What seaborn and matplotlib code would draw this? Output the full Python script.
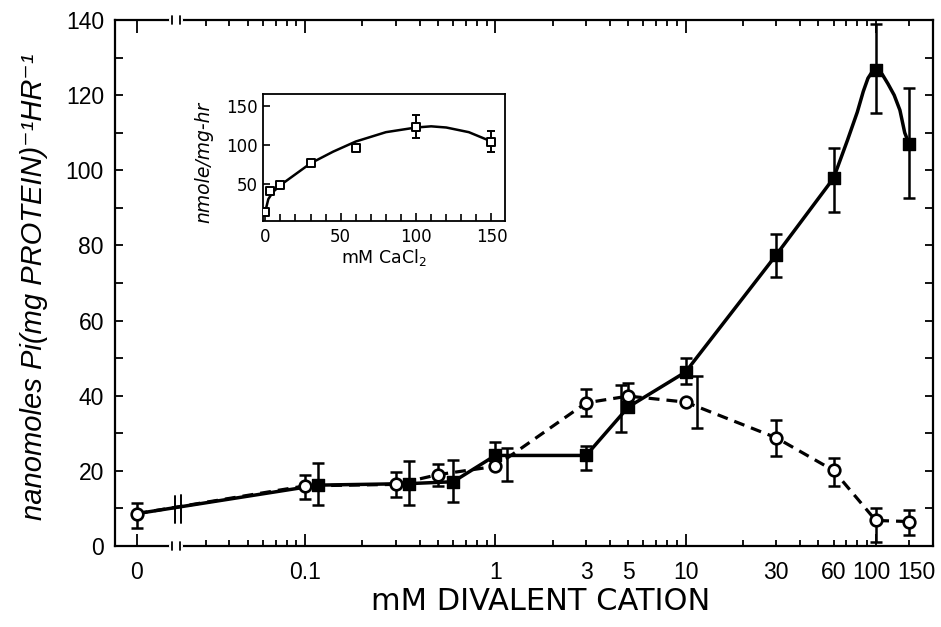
import matplotlib
matplotlib.use("Agg")
import matplotlib.pyplot as plt
import matplotlib.transforms as mtransforms
import numpy as np
import seaborn as sns

# ---- main panel data ----
ZERO_POS = 0.013          # where "0" sits on the broken log axis

open_x = [ZERO_POS, 0.1, 0.3, 0.5, 1, 3, 5, 10, 30, 60, 100, 150]
open_y = [8.6, 16.0, 16.4, 19.0, 21.2, 38.1, 39.9, 38.3, 28.8, 20.1, 6.8, 6.5]
open_err_x = [ZERO_POS, 0.1, 0.3, 0.5, 1.15, 3, 5, 11.5, 30, 60, 100, 150]
open_err_lo = [4.8, 12.5, 13.1, 16.0, 17.3, 34.6, 37.0, 31.4, 24.0, 16.1, 1.0, 2.9]
open_err_hi = [11.4, 19.0, 19.7, 21.8, 26.1, 41.8, 43.4, 45.3, 33.5, 23.4, 10.0, 9.6]

filled_x = [0.117, 0.35, 0.6, 1, 3, 5, 10, 30, 60, 100, 150]
filled_y = [16.2, 16.6, 17.1, 24.1, 24.1, 37.0, 46.3, 77.5, 97.9, 126.6, 106.9]
filled_err_x = [0.117, 0.35, 0.6, 1, 3, 4.55, 10, 30, 60, 100, 150]
filled_err_lo = [10.9, 10.8, 11.7, 21.2, 20.3, 30.3, 43.1, 71.6, 89.0, 115.3, 92.7]
filled_err_hi = [22.1, 22.5, 23.0, 27.7, 26.6, 42.8, 50.1, 83.0, 106.0, 138.9, 122.0]

# solid curve as drawn (passes through the filled points, rounded near the peak)
filled_line_x = [ZERO_POS, 0.117, 0.35, 0.6, 1, 3, 5, 10, 30, 60, 71, 80, 86, 91,
                 96, 100, 108, 116, 125, 134, 142, 150]
filled_line_y = [8.6, 16.2, 16.6, 17.1, 24.1, 24.1, 37.0, 46.3, 77.5, 97.9, 108,
                 115.5, 121, 124.5, 126.3, 126.6, 125.6, 123, 120, 116, 110, 106.9]

x_major = [ZERO_POS, 0.1, 1, 10, 100]
x_major_labels = ["0", "0.1", "1", "10", "100"]
x_minor = [0.03, 0.04, 0.05, 0.06, 0.07, 0.08, 0.09,
           0.2, 0.3, 0.4, 0.5, 0.6, 0.7, 0.8, 0.9,
           2, 3, 4, 5, 6, 7, 8, 9,
           20, 30, 40, 50, 60, 70, 80, 90, 150]
x_minor_labelled = {3: "3", 5: "5", 30: "30", 60: "60", 150: "150"}

# ---- inset data: CaCl2 ----
inset_x = [0, 3, 10, 30, 60, 100, 150]
inset_y = [14, 41, 48, 77, 96, 123, 104]
inset_err_x = [100, 150]
inset_err_y = [123, 104]
inset_err = [15, 14]
inset_curve_x = [0, 2, 5, 10, 20, 30, 45, 60, 80, 100, 110, 120, 135, 150]
inset_curve_y = [14, 30, 39, 48, 62, 76, 91, 104, 116, 122, 123.5, 122, 116, 104]

# ---- figure ----
sns.set_style("ticks")
plt.rcParams["font.family"] = ["DejaVu Sans"]
plt.rcParams["mathtext.fontset"] = "dejavusans"
plt.rcParams["text.color"] = "black"
plt.rcParams["axes.labelcolor"] = "black"
LIB = ["Liberation Sans", "DejaVu Sans"]

fig = plt.figure(figsize=(9.41, 6.27), dpi=100)
ax = fig.add_axes([0.1222, 0.1292, 0.8693, 0.8389])

# lines
sns.lineplot(x=open_x, y=open_y, ax=ax, sort=False, estimator=None,
             color="black", linewidth=2.3, zorder=2)
ax.lines[-1].set_dashes((3.4, 2.2))
sns.lineplot(x=filled_line_x, y=filled_line_y, ax=ax, sort=False, estimator=None,
             color="black", linewidth=2.5, zorder=2)

# error bars
def draw_err(axis, xs, lo, hi, lw, cap):
    lo = np.asarray(lo)
    hi = np.asarray(hi)
    axis.errorbar(xs, (lo + hi) / 2, yerr=(hi - lo) / 2, fmt="none",
                  ecolor="black", elinewidth=lw, capsize=cap, capthick=lw,
                  zorder=3)

draw_err(ax, open_err_x, open_err_lo, open_err_hi, 1.8, 4)
draw_err(ax, filled_err_x, filled_err_lo, filled_err_hi, 1.8, 4)

# markers
sns.scatterplot(x=filled_x, y=filled_y, ax=ax, marker="s", s=85,
                color="black", edgecolor="black", linewidth=1, zorder=4)
sns.scatterplot(x=open_x, y=open_y, ax=ax, marker="o", s=70,
                facecolor="white", edgecolor="black", linewidth=1.9, zorder=5)

ax.set_xscale("log")
ax.set_xlim(0.01, 200)
ax.set_ylim(0, 140)

ax.set_xticks(x_major, x_major_labels)
ax.set_xticks(x_minor, [x_minor_labelled.get(v, "") for v in x_minor], minor=True)
ax.set_yticks(np.arange(0, 141, 20))
ax.set_yticks(np.arange(0, 141, 10), minor=True)

ax.tick_params(axis="both", which="both", direction="in", top=True, right=True,
               colors="black", width=1.3, labelsize=16.5)
ax.tick_params(axis="x", which="major", length=9, pad=11)
ax.tick_params(axis="x", which="minor", length=4.5, pad=11)
ax.tick_params(axis="y", which="both", length=6, pad=8)
for lab in ax.get_xticklabels(which="both") + ax.get_yticklabels():
    lab.set_family(LIB)
# nudge the crowded labels at the right end apart
shift = {"100": -4, "150": 7}
for lab in ax.get_xticklabels(which="both"):
    dx = shift.get(lab.get_text(), 0)
    if dx:
        lab.set_transform(lab.get_transform() + mtransforms.ScaledTranslation(
            dx / 100, 0, fig.dpi_scale_trans))
for sp in ax.spines.values():
    sp.set_linewidth(1.6)
    sp.set_color("black")

ax.set_xlabel("mM DIVALENT CATION", fontsize=22, va="center", color="black")
ax.xaxis.set_label_coords(0.52, -0.105)
ax.set_ylabel("nanomoles Pi(mg PROTEIN)\u207b\u00b9HR\u207b\u00b9", fontsize=21,
              style="italic", family=LIB, va="center", color="black")
ax.yaxis.set_label_coords(-0.099, 0.492)

# axis break marks (bottom and top spines) and on the data line
trans = mtransforms.blended_transform_factory(ax.transData, ax.transAxes)
for yb in (0, 1):
    ax.plot([0.0198, 0.0222], [yb, yb], transform=trans, color="white",
            linewidth=3, clip_on=False, zorder=6)
    for xb in (0.0200, 0.0220):
        ax.plot([xb, xb], [yb - 0.008, yb + 0.008], transform=trans,
                color="black", linewidth=1.3, clip_on=False, zorder=7)
ax.plot([0.0206, 0.0206], [6.0, 13.4], color="black", linewidth=1.4, zorder=6)
ax.plot([0.0222, 0.0222], [6.2, 13.6], color="black", linewidth=1.4, zorder=6)

# ---- inset ----
axin = fig.add_axes([0.2795, 0.6475, 0.2572, 0.2026])
sns.lineplot(x=inset_curve_x, y=inset_curve_y, ax=axin, sort=False,
             estimator=None, color="black", linewidth=1.8)
axin.errorbar(inset_err_x, inset_err_y, yerr=inset_err, fmt="none",
              ecolor="black", elinewidth=1.4, capsize=3, capthick=1.4)
sns.scatterplot(x=inset_x, y=inset_y, ax=axin, marker="s", s=38,
                facecolor="white", edgecolor="black", linewidth=1.4, zorder=5)
axin.set_xlim(-1.5, 159)
axin.set_ylim(2, 165)
axin.set_xticks([0, 50, 100, 150])
axin.set_xticks(np.arange(10, 150, 10), minor=True)
axin.set_yticks([50, 100, 150])
axin.tick_params(axis="both", which="both", direction="in", colors="black",
                 width=1.2, labelsize=12, top=False, right=False)
axin.tick_params(axis="x", which="major", length=6, pad=5)
axin.tick_params(axis="x", which="minor", length=5)
axin.tick_params(axis="y", which="major", length=5, pad=4)
for sp in axin.spines.values():
    sp.set_linewidth(1.3)
    sp.set_color("black")
axin.set_xlabel("mM CaCl$_2$", fontsize=12.5, va="center", color="black")
axin.xaxis.set_label_coords(0.5, -0.29)
axin.set_ylabel("nmole/mg-hr", fontsize=13.5, style="italic", va="center",
                color="black")
axin.yaxis.set_label_coords(-0.245, 0.46)

fig.savefig("out.png", dpi=100)
